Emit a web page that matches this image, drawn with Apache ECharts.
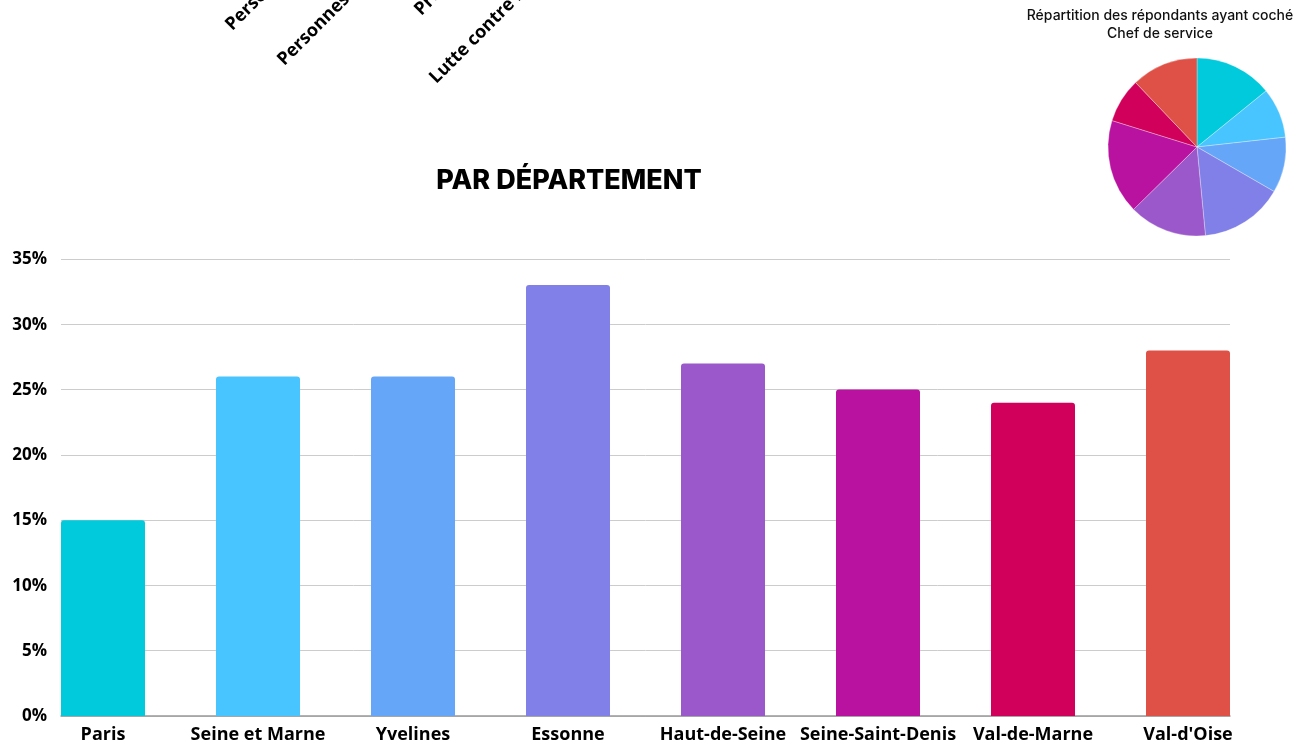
<!DOCTYPE html>
<html>
<head>
<meta charset="utf-8">
<script src="https://cdn.jsdelivr.net/npm/echarts@6/dist/echarts.min.js"></script>
<style>
  html, body { margin: 0; padding: 0; background: #fff; }
  #chart { width: 1309px; height: 744px; }
</style>
</head>
<body>
<div id="chart"></div>
<script>
// Data
const departements = ['Paris', 'Seine et Marne', 'Yvelines', 'Essonne', 'Haut-de-Seine', 'Seine-Saint-Denis', 'Val-de-Marne', "Val-d'Oise"];
const pourcentages = [15, 26, 26, 33, 27, 25, 24, 28];
const couleurs = ['#00CADC', '#48C4FE', '#66A6F9', '#8180E8', '#9A58CB', '#BA12A0', '#D1005A', '#DF5047'];

// pie "Chef de service" (share per departement)
const chefDeService = [14, 9, 10, 15, 14, 17, 8, 12];
const pieTitre = 'Répartition des répondants ayant coché\nChef de service';

// leftover rotated labels from the chart above (cut off at the top)
const labelsHaut = ['Personnes âgées', 'Personnes handicapées', 'Protection de l\'enfance', 'Lutte contre les exclusions'];

const chart = echarts.init(document.getElementById('chart'));

const labelPos = [[235, 34], [287, 69], [424, 19], [439, 87]];

const option = {
    backgroundColor: '#ffffff',
    animation: false,
    graphic: [
        ...labelsHaut.map((t, i) => ({
            type: 'text',
            x: labelPos[i][0],
            y: labelPos[i][1],
            rotation: Math.PI / 4,
            style: {
                text: t,
                font: 'bold 18px "Open Sans"',
                fill: '#000',
                textAlign: 'left',
                textVerticalAlign: 'bottom'
            }
        })),
        {
            type: 'text',
            x: 569,
            y: 181,
            style: {
                text: 'PAR DÉPARTEMENT',
                font: '800 27px Inter',
                fill: '#000',
                textAlign: 'center',
                textVerticalAlign: 'middle'
            }
        },
        {
            type: 'text',
            x: 1160,
            y: 25,
            style: {
                text: pieTitre,
                font: '500 14px Inter',
                lineHeight: 18,
                fill: '#111',
                textAlign: 'center',
                textVerticalAlign: 'middle'
            }
        }
    ],
    grid: [
        // frame: split lines + y labels
        { left: 61, right: 79, top: 259, bottom: 28 },
        // bars: wider band so bars line up with the frame edges
        { left: 25.5, right: 43.5, top: 259, bottom: 28 }
    ],
    xAxis: [
        {
            type: 'category',
            gridIndex: 0,
            data: departements,
            axisLine: { show: true, lineStyle: { color: '#999', width: 1.5 } },
            axisTick: { show: false },
            axisLabel: { show: false }
        },
        {
            type: 'category',
            gridIndex: 1,
            data: departements,
            axisLine: { show: false },
            axisTick: { show: false },
            axisLabel: {
                color: '#000',
                fontFamily: 'Open Sans',
                fontWeight: 'bold',
                fontSize: 18,
                margin: 10,
                interval: 0
            }
        }
    ],
    yAxis: [
        {
            type: 'value',
            gridIndex: 0,
            min: 0,
            max: 35,
            interval: 5,
            axisLine: { show: false },
            axisTick: { show: false },
            axisLabel: {
                formatter: '{value}%',
                color: '#000',
                fontFamily: 'Open Sans',
                fontWeight: 'bold',
                fontSize: 17,
                margin: 14,
                verticalAlign: 'top',
                padding: [-8, 0, 0, 0]
            },
            splitLine: { lineStyle: { color: '#cccccc', width: 1 } }
        },
        {
            type: 'value',
            gridIndex: 1,
            min: 0,
            max: 35,
            interval: 5,
            show: false
        }
    ],
    series: [
        {
            type: 'bar',
            xAxisIndex: 1,
            yAxisIndex: 1,
            barWidth: 84,
            data: pourcentages.map((v, i) => ({
                value: v,
                itemStyle: { color: couleurs[i], borderRadius: [3, 3, 0, 0] }
            }))
        },
        {
            type: 'pie',
            center: [1197, 147],
            radius: 89,
            startAngle: 90,
            clockwise: true,
            label: { show: false },
            labelLine: { show: false },
            itemStyle: { borderColor: 'rgba(255,255,255,0.6)', borderWidth: 0.5 },
            data: chefDeService.map((v, i) => ({
                name: departements[i],
                value: v,
                itemStyle: { color: couleurs[i] }
            }))
        }
    ]
};

chart.setOption(option);
</script>
</body>
</html>
